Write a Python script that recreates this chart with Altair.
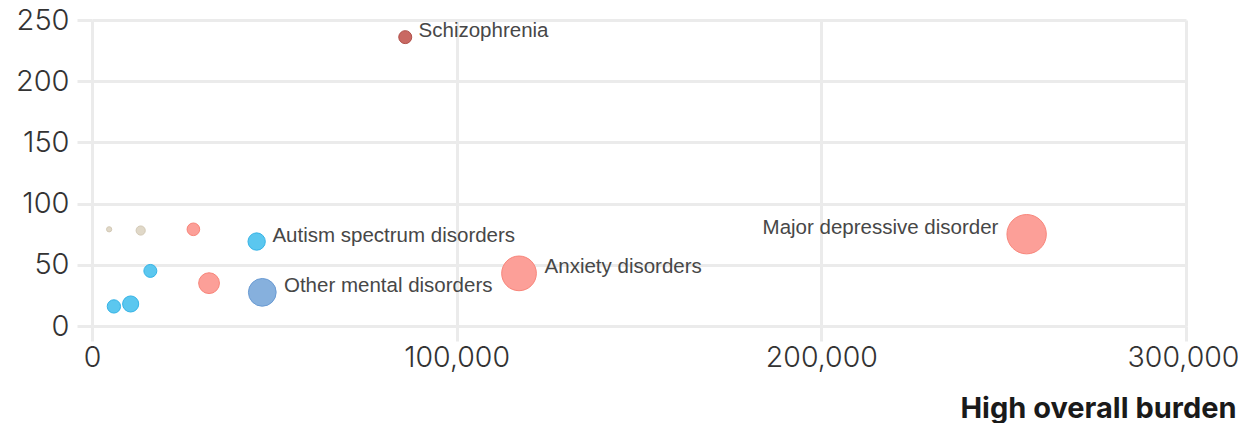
import altair as alt
import pandas as pd
import math

# Data
burden = [4700, 13350, 27800, 45150, 16000, 32100, 46700, 6000, 10600, 85900, 117100, 256300]
rate = [79, 78, 79, 69, 45, 35, 27.5, 16, 18, 236, 43, 75]
weight = [9, 28, 53, 100, 56, 144, 256, 59, 86, 56, 400, 515]
group = ["Tan", "Tan", "Pink", "Blue", "Blue", "Pink", "Steel", "Blue", "Blue", "Red", "Pink", "Pink"]
label = ["", "", "", "Autism spectrum disorders", "", "", "Other mental disorders", "", "",
         "Schizophrenia", "Anxiety disorders", "Major depressive disorder"]
side = ["", "", "", "right", "", "", "right", "", "", "right", "right", "left"]

group_names = ["Tan", "Pink", "Blue", "Steel", "Red"]
fill_colors = ["#e0d8c8", "#fc9f98", "#5bc7ef", "#86b0dd", "#c96963"]
stroke_colors = ["#d3c9b5", "#f8857a", "#35b3e6", "#6a9bd3", "#b04f49"]

x_ticks = [0, 100000, 200000, 300000]
y_ticks = [0, 50, 100, 150, 200, 250]

df = pd.DataFrame({"burden": burden, "rate": rate, "weight": weight,
                   "group": group, "label": label, "side": side})

MAXW = max(weight)
R_MAX = 22.2

x_enc = alt.X("burden:Q",
              scale=alt.Scale(domain=[0, 300000], nice=False),
              axis=alt.Axis(values=x_ticks, format=",.0f", title="High overall burden",
                            titleX=1144, titleY=91, titleAlign="right", titleAnchor="end",
                            titleBaseline="alphabetic", titleFont="Inter", titleFontSize=29,
                            titleFontWeight=700, titleColor="#1a1a1a",
                            labelPadding=2, labelFlush=False, labelOverlap=False,
                            labelFontSize=28.5,
                            labelOffset={"condition": {"test": "datum.value == 300000", "value": -3},
                                         "value": 0}))
y_enc = alt.Y("rate:Q",
              scale=alt.Scale(domain=[0, 250], nice=False),
              axis=alt.Axis(values=y_ticks, format="d", title=None, labelPadding=8,
                            labelFlush=False, labelOverlap=False))

points = alt.Chart(df).mark_circle(opacity=1, strokeWidth=1).encode(
    x=x_enc,
    y=y_enc,
    size=alt.Size("weight:Q", scale=alt.Scale(domain=[0, MAXW], range=[0, math.pi * R_MAX ** 2]), legend=None),
    fill=alt.Fill("group:N", scale=alt.Scale(domain=group_names, range=fill_colors), legend=None),
    stroke=alt.Stroke("group:N", scale=alt.Scale(domain=group_names, range=stroke_colors), legend=None),
)

layers = [points]
for i, txt in enumerate(label):
    if not txt:
        continue
    off = math.sqrt(weight[i] / MAXW) * R_MAX + 6
    sub = df.iloc[[i]]
    if side[i] == "left":
        mk = alt.Chart(sub).mark_text(align="right", baseline="middle", dx=-off, dy=-6,
                                      font="Liberation Sans", fontSize=20.5, color="#474747")
    else:
        mk = alt.Chart(sub).mark_text(align="left", baseline="middle", dx=off, dy=-6,
                                      font="Liberation Sans", fontSize=20.5, color="#474747")
    layers.append(mk.encode(x=x_enc, y=y_enc, text="label:N"))

chart = alt.layer(*layers).properties(
    width=1094, height=306,
    autosize=alt.AutoSizeParams(type="none"),
    padding={"left": 84, "top": 12, "right": 52, "bottom": 97},
).configure_view(stroke=None).configure_axis(
    domain=False,
    grid=True,
    gridColor="#ebebeb",
    gridWidth=3,
    tickColor="#ebebeb",
    tickWidth=3,
    tickSize=15,
    labelFont="Inter",
    labelFontWeight=300,
    labelFontSize=29,
    labelColor="#333333",
)

chart.save("out.html", embed_options={"renderer": "svg", "actions": False})
